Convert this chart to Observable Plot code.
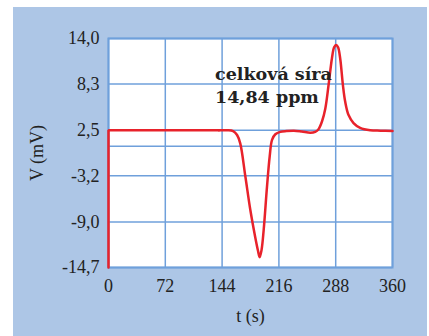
<!DOCTYPE html>
<html>
<head>
<meta charset="utf-8">
<script src="https://cdn.jsdelivr.net/npm/d3@7"></script>
<script src="https://cdn.jsdelivr.net/npm/@observablehq/plot@0.6"></script>
<style>
  html, body { margin: 0; padding: 0; background: #ffffff; }
  #wrap { position: relative; width: 429px; height: 336px; overflow: hidden; }
  #panel { position: absolute; left: 13px; top: 7px; width: 414px; height: 329px; background: #adc6e6; }
  #chart { position: absolute; left: 0; top: 0; }
  #chart svg { font-family: "Liberation Serif", "DejaVu Serif", serif !important; font-size: 18px !important; }
</style>
</head>
<body>
<div id="wrap"><div id="panel"></div><div id="chart"></div></div>
<script>
// time (s)
const tValues = [0, 0, 140, 150, 158, 163, 167, 173.5, 179.8, 186, 189.5, 191.6, 194, 196.7, 200.9, 204.3, 207.3, 211.5, 217.8, 225.6, 235, 245, 255.8, 262, 266, 270.6, 274.8, 279, 283.2, 286, 288.5, 291, 293.7, 297.1, 300, 304.3, 310.6, 319, 331.7, 345, 360];
// voltage (mV)
const vValues = [-14.7, 2.5, 2.5, 2.5, 2.4, 1.9, 0.85, -3.3, -7.5, -10.9, -12.6, -13.4, -12.5, -10.0, -4.6, -0.8, 1.3, 2.0, 2.3, 2.4, 2.45, 2.35, 2.2, 2.3, 2.6, 3.6, 5.2, 8.2, 11.5, 12.9, 13.2, 12.9, 11.5, 8.2, 6.1, 4.4, 3.4, 2.8, 2.5, 2.45, 2.4];
const xTicks = [0, 72, 144, 216, 288, 360];
const yTicks = [14.0, 8.3, 2.5, -3.2, -9.0, -14.7];
const yGrid = [14.0, 8.3, 2.5, 0.5, -3.2, -9.0, -14.7];
const annotationText = "celková síra\n14,84 ppm";
const annotationT = 135;
const annotationV = 8.3;

const data = tValues.map((t, i) => ({t, v: vValues[i]}));
const straightPart = data.slice(0, 3);   // vertical jump and flat baseline
const curvedPart = data.slice(2);         // smooth peaks
const gridColor = "#6fa0db";
const red = "#e8222b";

const chart = Plot.plot({
  width: 429,
  height: 336,
  marginLeft: 108,
  marginTop: 38,
  marginRight: 37,
  marginBottom: 69,
  x: {domain: [0, 360]},
  y: {domain: [-14.7, 14.0]},
  style: "background: transparent; color: #222;",
  marks: [
    Plot.frame({fill: "white", stroke: "none"}),
    Plot.ruleY(yGrid, {stroke: gridColor, strokeWidth: 1.5}),
    Plot.ruleX(xTicks, {stroke: gridColor, strokeWidth: 1.5}),
    Plot.frame({stroke: gridColor, strokeWidth: 2}),
    Plot.line(straightPart, {x: "t", y: "v", stroke: red, strokeWidth: 2.5, curve: "linear", strokeLinejoin: "miter"}),
    Plot.line(curvedPart, {x: "t", y: "v", stroke: red, strokeWidth: 2.5, curve: "catmull-rom"}),
    Plot.text([annotationText], {x: () => annotationT, y: () => annotationV, text: d => d, textAnchor: "start", lineAnchor: "middle", fontFamily: "DejaVu Serif", fontWeight: "bold", fontSize: 17.5, lineHeight: 1.3, fill: "#222"}),
    Plot.axisY(yTicks, {tickSize: 0, tickPadding: 9, tickFormat: d => d.toFixed(1).replace(".", ","), label: "V (mV)", labelAnchor: "center", labelArrow: "none", labelOffset: 78, fontFamily: "Liberation Serif"}),
    Plot.axisX(xTicks, {tickSize: 0, tickPadding: 12, tickFormat: d => String(d), label: "t (s)", labelAnchor: "center", labelArrow: "none", labelOffset: 54, fontFamily: "Liberation Serif"})
  ]
});
document.getElementById("chart").appendChild(chart);
</script>
</body>
</html>
